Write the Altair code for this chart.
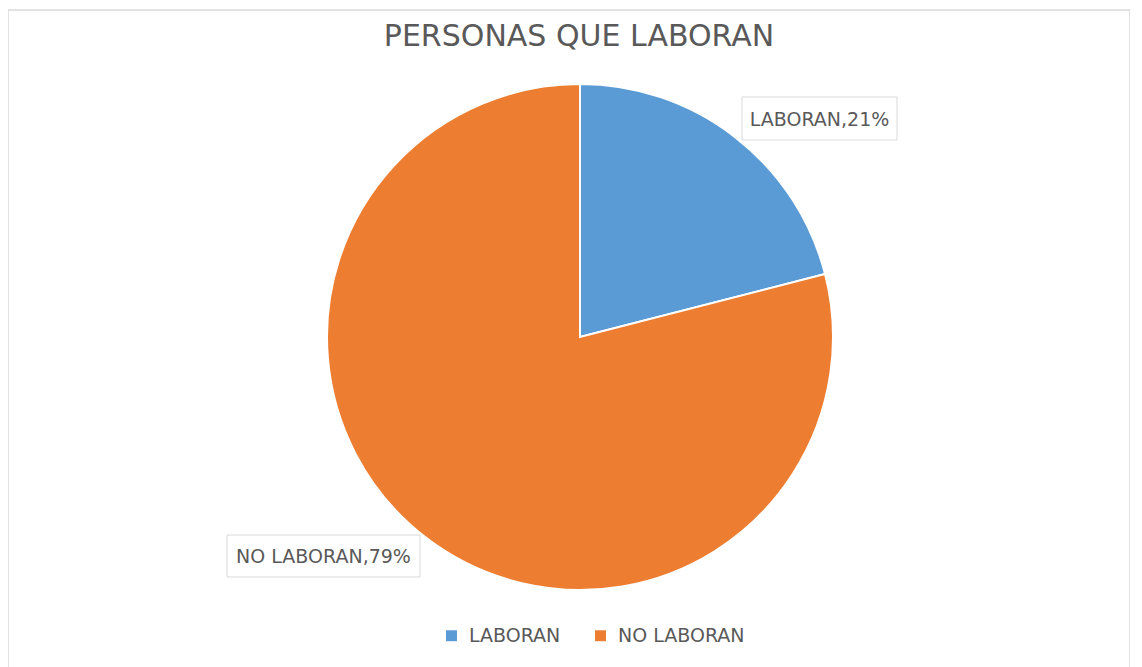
import altair as alt
import pandas as pd

categories = ["LABORAN", "NO LABORAN"]
values = [21, 79]
colors = ["#5B9BD5", "#ED7D31"]

df = pd.DataFrame({"cat": categories, "val": values, "ord": [0, 1]})
df["label"] = df["cat"] + "," + df["val"].astype(str) + "%"

CX, CY, R = 572, 327, 253
FONT = "DejaVu Sans"
GRAY = "#595959"

base = alt.Chart(df)

pie = base.mark_arc(outerRadius=R, stroke="white", strokeWidth=2).encode(
    theta=alt.Theta("val:Q", stack=True),
    order=alt.Order("ord:Q"),
    color=alt.Color(
        "cat:N",
        scale=alt.Scale(domain=categories, range=colors),
        legend=alt.Legend(
            title=None,
            orient="none",
            legendX=434,
            legendY=616,
            direction="horizontal",
            symbolType="square",
            symbolSize=120,
            symbolStrokeWidth=0,
            labelFont=FONT,
            labelFontSize=19,
            labelColor=GRAY,
            columnPadding=30,
            labelOffset=8,
        ),
    ),
    x=alt.value(CX),
    y=alt.value(CY),
)

label_pos = {"LABORAN": (734, 87, 889, 130), "NO LABORAN": (219, 525, 412, 567)}

layers = [pie]
for cat, (x1, y1, x2, y2) in label_pos.items():
    sub = base.transform_filter(alt.datum.cat == cat)
    box = sub.mark_rect(fill="white", stroke="#d9d9d9", strokeWidth=1).encode(
        x=alt.value(x1), x2=alt.value(x2), y=alt.value(y1), y2=alt.value(y2)
    )
    txt = sub.mark_text(font=FONT, fontSize=19, color=GRAY, align="center", baseline="middle").encode(
        text="label:N",
        x=alt.value((x1 + x2) / 2),
        y=alt.value((y1 + y2) / 2 + 1),
    )
    layers += [box, txt]

chart = alt.layer(*layers).properties(
    width=1122,
    height=670,
    title=alt.TitleParams(
        "PERSONAS QUE LABORAN",
        font=FONT,
        fontSize=30,
        fontWeight="normal",
        color=GRAY,
        anchor="middle",
        offset=-42,
        dx=10,
    ),
    autosize=alt.AutoSizeParams(type="none"),
    padding={"left": 0, "top": 2, "right": 0, "bottom": 0},
).configure_view(stroke="#d9d9d9", strokeWidth=1.5)

chart.save("out.html", embed_options={"renderer": "svg", "actions": False})
